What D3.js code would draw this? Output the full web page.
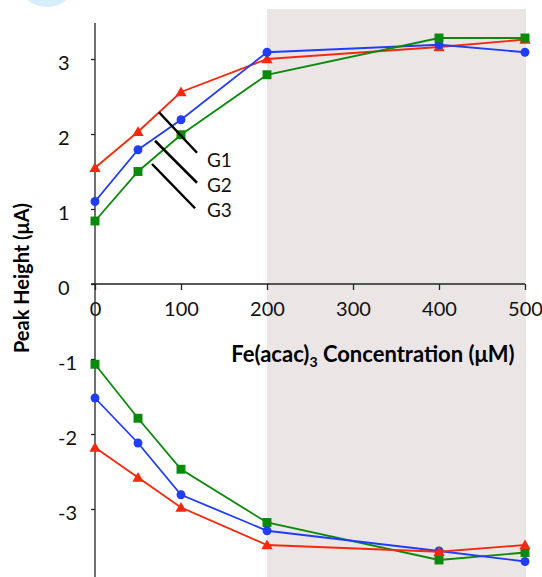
<!DOCTYPE html>
<html><head><meta charset="utf-8">
<script src="https://cdn.jsdelivr.net/npm/d3@7"></script>
<style>html,body{margin:0;padding:0;background:#fff;}svg{display:block;}</style>
</head><body>
<svg id="c" width="542" height="577"></svg>
<script>
const conc = [0, 50, 100, 200, 400, 500];
const g1Top = [1.55, 2.03, 2.56, 3.00, 3.16, 3.26];
const g2Top = [1.10, 1.79, 2.19, 3.09, 3.19, 3.09];
const g3Top = [0.84, 1.50, 1.99, 2.79, 3.28, 3.28];
const g1Bottom = [-2.18, -2.58, -2.98, -3.48, -3.57, -3.48];
const g2Bottom = [-1.52, -2.12, -2.81, -3.29, -3.56, -3.70];
const g3Bottom = [-1.07, -1.79, -2.47, -3.18, -3.68, -3.58];
const xTicks = [0, 100, 200, 300, 400, 500];
const yTicks = [3, 2, 1, 0, -1, -2, -3];
const shadeRange = [200, 500];
const labels = ["G1", "G2", "G3"];
const leaderLines = [
  [[74.4, 2.29], [118.6, 1.75]],
  [[69.8, 1.91], [118.6, 1.35]],
  [[66.3, 1.60], [116.3, 1.01]]
];
const labelPos = [[130.2, 1.56], [130.2, 1.23], [130.2, 0.89]];
const colors = {g1: "#f7290c", g2: "#1f3dfa", g3: "#0a8a0a"};

const svg = d3.select("#c");
const font = "Lato, 'Open Sans', sans-serif";
const x = d3.scaleLinear().domain([0, 500]).range([95, 525]);
const y = d3.scaleLinear().domain([-4, 3.5]).range([584, 21.5]);

// decorative light-blue blob at top
svg.append("ellipse").attr("cx", 47).attr("cy", -22).attr("rx", 30).attr("ry", 29).attr("fill", "#d6eefb");

// shaded region
svg.append("rect")
  .attr("x", x(shadeRange[0])).attr("y", 9)
  .attr("width", x(shadeRange[1]) - x(shadeRange[0]) + 1)
  .attr("height", 577 - 9)
  .attr("fill", "#ebe5e5");

// x axis at y=0
const xAxis = d3.axisBottom(x).tickValues(xTicks).tickSize(6).tickFormat(d => String(d));
const gx = svg.append("g").attr("transform", `translate(0,${y(0)})`).call(xAxis);
gx.select(".domain").attr("d", `M${x(0)-4},0H${x(500)}`).attr("stroke", "#222").attr("stroke-width", 1.3);
gx.selectAll(".tick line").attr("stroke", "#222").attr("stroke-width", 1.3);
gx.selectAll(".tick text").attr("font-family", font).attr("font-size", 20).attr("fill", "#111").attr("dy", "1.1em").attr("y", 10);

// y axis
const yAxis = d3.axisLeft(y).tickValues(yTicks).tickSize(4).tickFormat(d => String(d));
const gy = svg.append("g").attr("transform", `translate(${x(0)},0)`).call(yAxis);
gy.select(".domain").attr("d", `M0,23V577`).attr("stroke", "#222").attr("stroke-width", 1.3);
gy.selectAll(".tick line").attr("stroke", "#222").attr("stroke-width", 1.3);
gy.selectAll(".tick text").attr("font-family", font).attr("font-size", 20).attr("fill", "#111")
  .attr("text-anchor", "start").attr("x", 58 - x(0)).attr("dy", "0.52em");

// series
const series = [
  {vals: g1Top, c: colors.g1, m: "tri"},
  {vals: g2Top, c: colors.g2, m: "circ"},
  {vals: g3Top, c: colors.g3, m: "sq"},
  {vals: g3Bottom, c: colors.g3, m: "sq"},
  {vals: g2Bottom, c: colors.g2, m: "circ"},
  {vals: g1Bottom, c: colors.g1, m: "tri"}
];
const line = d3.line().x(d => x(d[0])).y(d => y(d[1]));
const symMap = {tri: d3.symbolTriangle, circ: d3.symbolCircle, sq: d3.symbolSquare};
const sizeMap = {tri: 55, circ: 62, sq: 80};
series.forEach(s => {
  const pts = conc.map((c, i) => [c, s.vals[i]]);
  svg.append("path").datum(pts).attr("d", line).attr("fill", "none").attr("stroke", s.c).attr("stroke-width", 1.8);
  svg.selectAll(null).data(pts).enter().append("path")
    .attr("d", d3.symbol().type(symMap[s.m]).size(sizeMap[s.m]))
    .attr("transform", d => `translate(${x(d[0])},${y(d[1]) + (s.m === "tri" ? 1 : 0)})`)
    .attr("fill", s.c);
});

// leader lines and labels
leaderLines.forEach(l => {
  svg.append("line")
    .attr("x1", x(l[0][0])).attr("y1", y(l[0][1]))
    .attr("x2", x(l[1][0])).attr("y2", y(l[1][1]))
    .attr("stroke", "#000").attr("stroke-width", 2.5);
});
labels.forEach((t, i) => {
  svg.append("text").attr("x", x(labelPos[i][0])).attr("y", y(labelPos[i][1]))
    .attr("font-family", font).attr("font-size", 19).attr("fill", "#111").text(t);
});

// axis titles
svg.append("text")
  .attr("transform", "translate(29,278) rotate(-90)")
  .attr("text-anchor", "middle").attr("font-family", font).attr("font-weight", "bold")
  .attr("font-size", 20).attr("fill", "#000").text("Peak Height (μA)");
const xt = svg.append("text").attr("x", 373).attr("y", 362)
  .attr("text-anchor", "middle").attr("font-family", font).attr("font-weight", "bold")
  .attr("font-size", 22).attr("fill", "#000");
xt.append("tspan").text("Fe(acac)");
xt.append("tspan").attr("font-size", 14).attr("dy", 5).text("3");
xt.append("tspan").attr("dy", -5).text(" Concentration (μM)");
</script>
</body></html>
